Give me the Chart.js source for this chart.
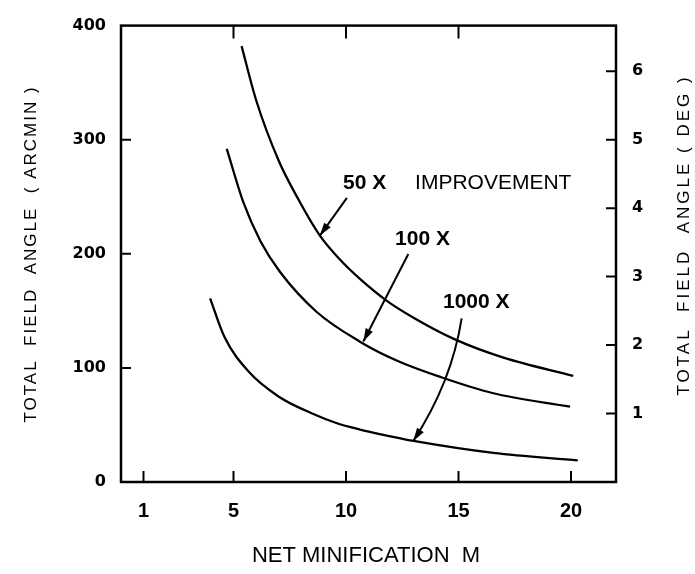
<!DOCTYPE html>
<html>
<head>
<meta charset="utf-8">
<script src="https://cdn.jsdelivr.net/npm/chart.js@4.4.0/dist/chart.umd.min.js"></script>
<style>
  html, body { margin: 0; padding: 0; background: #fff; }
  canvas { display: block; }
</style>
</head>
<body>
<canvas id="fieldChart" width="695" height="574"></canvas>
<script>
// net minification M vs total field angle (arcmin)
const mag50 = [5.36, 6.0, 7.0, 7.96, 8.84, 9.73, 10.62, 11.8, 13.0, 14.84, 17.0, 20.1];
const angle50 = [382, 335, 282, 245, 216, 195, 178, 159, 144, 125, 109, 93];
const mag100 = [4.70, 5.44, 6.2, 7.07, 8.70, 10.62, 12.3, 14.2, 16.5, 19.96];
const angle100 = [292, 245, 211, 184, 149, 123, 106, 92, 78, 66];
const mag1000 = [3.96, 4.6, 5.66, 7.0, 8.55, 9.6, 10.62, 11.5, 13.0, 16.55, 20.3];
const angle1000 = [161, 127, 97, 75, 59.6, 51.5, 46, 42, 36, 25.5, 19];

const xTicks = [1, 5, 10, 15, 20];
const xTopTicks = [5, 10, 15];
const arcminTicks = [0, 100, 200, 300, 400];
const degTicks = [1, 2, 3, 4, 5, 6];

const toPoints = (xs, ys) => xs.map((x, i) => ({ x: x, y: ys[i] }));

const BOLD = '"DejaVu Sans", sans-serif';
const PLAIN = '"Liberation Sans", Arial, sans-serif';

// callouts, placed in data units (M, arcmin)
const notes = [
  { text: '50 X', x: 9.87, y: 262, font: 'bold 21px ' + PLAIN },
  { text: 'IMPROVEMENT', x: 13.07, y: 262, font: '21px ' + PLAIN },
  { text: '100 X', x: 12.18, y: 213, font: 'bold 21px ' + PLAIN },
  { text: '1000 X', x: 14.31, y: 158, font: 'bold 21px ' + PLAIN }
];
const arrows = [
  { from: [10.04, 249], via: [9.44, 232.5], to: [8.84, 216] },
  { from: [12.77, 199.8], via: [11.78, 162], to: [10.77, 123.2] },
  { from: [15.14, 143.4], via: [14.38, 88.5], to: [12.99, 36] }
];

const decorPlugin = {
  id: 'decor',
  afterDraw(chart) {
    const ctx = chart.ctx;
    const a = chart.chartArea;
    const xs = chart.scales.x, ys = chart.scales.y, ds = chart.scales.y2;
    ctx.save();
    ctx.strokeStyle = '#000';
    ctx.fillStyle = '#000';
    ctx.lineWidth = 2.5;
    ctx.strokeRect(a.left, a.top, a.right - a.left, a.bottom - a.top);

    // inward tick marks
    ctx.lineWidth = 2;
    ctx.beginPath();
    [100, 200, 300].forEach(v => {
      const py = ys.getPixelForValue(v);
      ctx.moveTo(a.left, py); ctx.lineTo(a.left + 10, py);
    });
    degTicks.forEach(v => {
      const py = ds.getPixelForValue(v);
      ctx.moveTo(a.right, py); ctx.lineTo(a.right - 10, py);
    });
    xTicks.forEach(v => {
      const px = xs.getPixelForValue(v);
      ctx.moveTo(px, a.bottom); ctx.lineTo(px, a.bottom - 11);
    });
    xTopTicks.forEach(v => {
      const px = xs.getPixelForValue(v);
      ctx.moveTo(px, a.top); ctx.lineTo(px, a.top + 13);
    });
    ctx.stroke();

    // callout text
    ctx.textBaseline = 'middle';
    ctx.textAlign = 'left';
    notes.forEach(n => {
      ctx.font = n.font;
      ctx.fillText(n.text, xs.getPixelForValue(n.x), ys.getPixelForValue(n.y));
    });

    // arrows
    ctx.lineWidth = 2;
    arrows.forEach(ar => {
      const p0 = [xs.getPixelForValue(ar.from[0]), ys.getPixelForValue(ar.from[1])];
      const pm = [xs.getPixelForValue(ar.via[0]), ys.getPixelForValue(ar.via[1])];
      const p2 = [xs.getPixelForValue(ar.to[0]), ys.getPixelForValue(ar.to[1])];
      const c = [2 * pm[0] - (p0[0] + p2[0]) / 2, 2 * pm[1] - (p0[1] + p2[1]) / 2];
      ctx.beginPath();
      ctx.moveTo(p0[0], p0[1]);
      ctx.quadraticCurveTo(c[0], c[1], p2[0], p2[1]);
      ctx.stroke();
      const ang = Math.atan2(p2[1] - c[1], p2[0] - c[0]);
      const len = 13, half = 4;
      ctx.beginPath();
      ctx.moveTo(p2[0], p2[1]);
      ctx.lineTo(p2[0] - len * Math.cos(ang) + half * Math.sin(ang), p2[1] - len * Math.sin(ang) - half * Math.cos(ang));
      ctx.lineTo(p2[0] - len * Math.cos(ang) - half * Math.sin(ang), p2[1] - len * Math.sin(ang) + half * Math.cos(ang));
      ctx.closePath();
      ctx.fill();
    });

    // axis titles
    ctx.textAlign = 'center';
    ctx.textBaseline = 'middle';
    ctx.font = '22px ' + PLAIN;
    ctx.fillText('NET MINIFICATION  M', 366, 556);
    ctx.font = '17px ' + PLAIN;
    const vert = (txt, x, y, spacing) => {
      ctx.save();
      ctx.letterSpacing = spacing;
      ctx.translate(x, y);
      ctx.rotate(-Math.PI / 2);
      ctx.fillText(txt, 0, 0);
      ctx.restore();
    };
    vert('TOTAL  FIELD  ANGLE  ( ARCMIN )', 31, 254, '2px');
    vert('TOTAL  FIELD  ANGLE ( DEG )', 684, 235, '3px');
    ctx.restore();
  }
};

const lineStyle = { borderColor: '#000', borderWidth: 2.3, pointRadius: 0, fill: false, tension: 0.4, cubicInterpolationMode: 'monotone' };

const ctx = document.getElementById('fieldChart').getContext('2d');
new Chart(ctx, {
  type: 'line',
  data: {
    datasets: [
      Object.assign({ label: '50 X', data: toPoints(mag50, angle50) }, lineStyle),
      Object.assign({ label: '100 X', data: toPoints(mag100, angle100) }, lineStyle),
      Object.assign({ label: '1000 X', data: toPoints(mag1000, angle1000) }, lineStyle)
    ]
  },
  options: {
    responsive: false,
    animation: false,
    layout: { padding: { top: 20, left: 0, right: 0, bottom: 0 } },
    plugins: { legend: { display: false }, tooltip: { enabled: false } },
    scales: {
      x: {
        type: 'linear', min: 0, max: 22,
        afterBuildTicks: s => { s.ticks = xTicks.map(v => ({ value: v })); },
        afterFit: s => { s.height = 92; },
        grid: { display: false, drawTicks: false }, border: { display: false },
        ticks: { color: '#000', padding: 17, font: { family: PLAIN, size: 20, weight: 'bold' } }
      },
      y: {
        position: 'left', min: 0, max: 400,
        afterBuildTicks: s => { s.ticks = arcminTicks.map(v => ({ value: v })); },
        afterFit: s => { s.width = 121; },
        grid: { display: false, drawTicks: false }, border: { display: false },
        ticks: { color: '#000', padding: 15, font: { family: BOLD, size: 16, weight: 'bold' } }
      },
      y2: {
        position: 'right', min: 0, max: 400 / 60,
        afterBuildTicks: s => { s.ticks = degTicks.map(v => ({ value: v })); },
        afterFit: s => { s.width = 79; },
        grid: { display: false, drawTicks: false }, border: { display: false },
        ticks: { color: '#000', padding: 16, font: { family: BOLD, size: 16, weight: 'bold' } }
      }
    }
  },
  plugins: [decorPlugin]
});
</script>
</body>
</html>
